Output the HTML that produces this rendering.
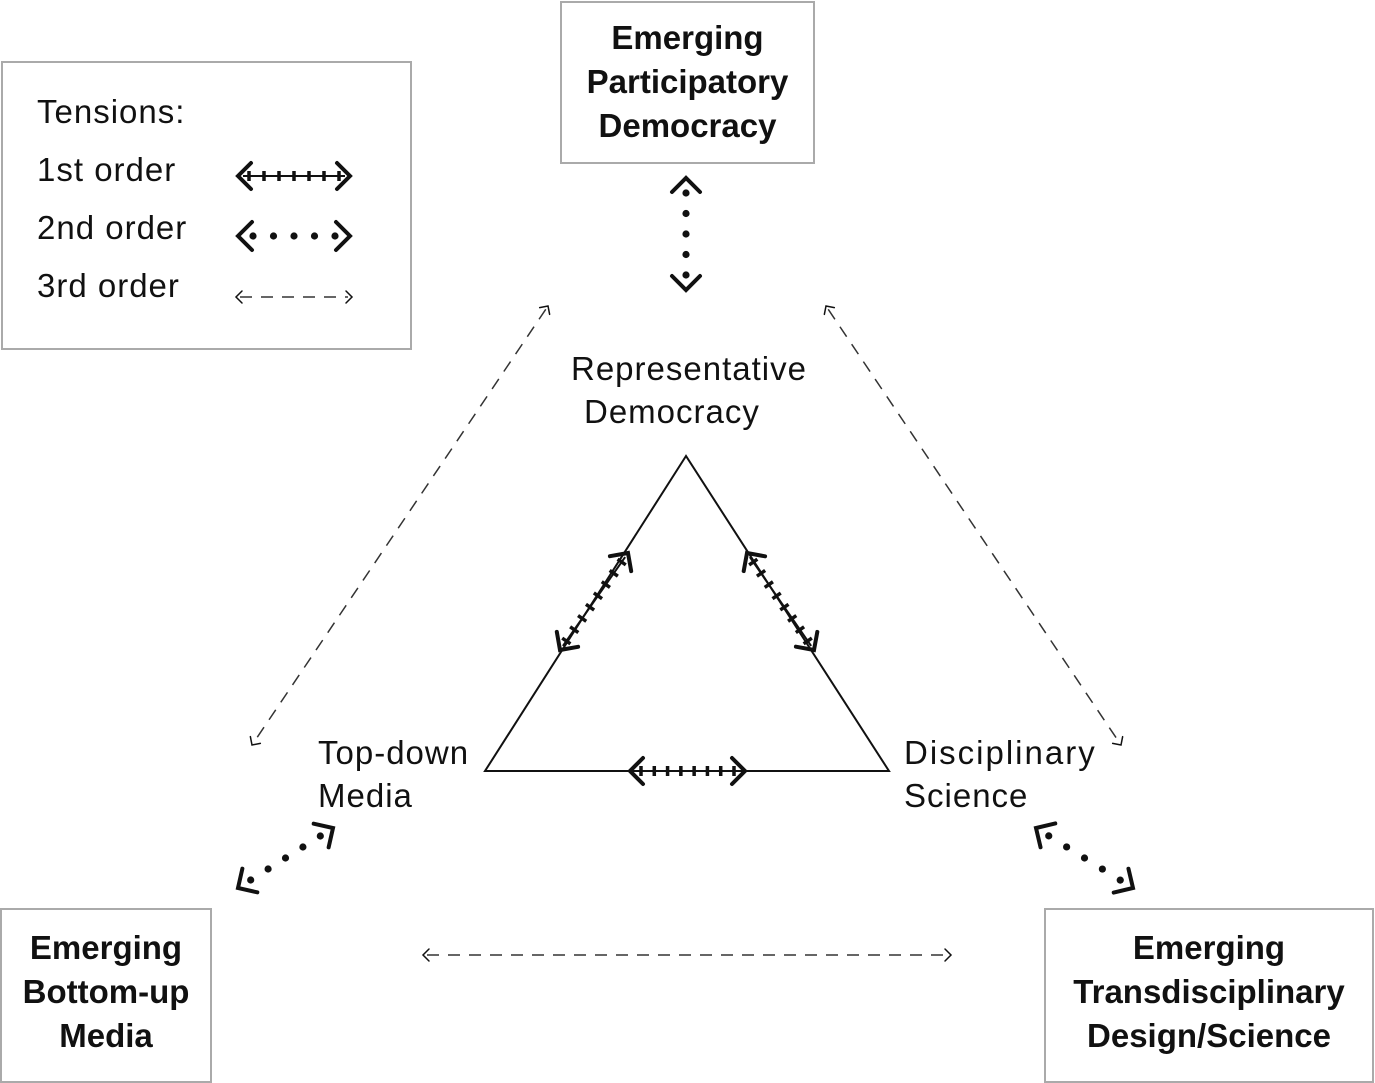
<!DOCTYPE html>
<html><head><meta charset="utf-8"><style>
html,body{margin:0;padding:0;background:#fff}
body{width:1375px;height:1083px;overflow:hidden;position:relative;font-family:"Liberation Sans",sans-serif;color:#111}
.box{position:absolute;border:2px solid #aaa;background:#fff;box-sizing:border-box}
.t{position:absolute;font-size:33px;line-height:43px;white-space:nowrap;letter-spacing:1px}
.b{font-weight:bold;text-align:center;font-size:33px;line-height:44px;position:absolute;width:100%;left:0}
#s{z-index:5}
</style></head><body>
<div class="box" style="left:1px;top:61px;width:411px;height:289px"></div>
<div class="t" style="left:37px;top:90px">Tensions:</div>
<div class="t" style="left:37px;top:148px">1st order</div>
<div class="t" style="left:37px;top:206px">2nd order</div>
<div class="t" style="left:37px;top:264px">3rd order</div>

<div class="box" style="left:560px;top:1px;width:255px;height:163px"><div class="b" style="top:13px">Emerging<br>Participatory<br>Democracy</div></div>
<div class="box" style="left:0px;top:908px;width:212px;height:175px"><div class="b" style="top:16px">Emerging<br>Bottom-up<br>Media</div></div>
<div class="box" style="left:1044px;top:908px;width:330px;height:175px"><div class="b" style="top:16px">Emerging<br>Transdisciplinary<br>Design/Science</div></div>

<div class="t" style="left:571px;top:347px">Representative</div>
<div class="t" style="left:584px;top:390px">Democracy</div>
<div class="t" style="left:318px;top:731px">Top-down</div>
<div class="t" style="left:318px;top:774px">Media</div>
<div class="t" style="left:904px;top:731px;letter-spacing:2px">Disciplinary</div>
<div class="t" style="left:904px;top:774px">Science</div>

<svg id="s" width="1375" height="1083" style="position:absolute;left:0;top:0">
<polygon points="686,456 485,771 889,771" fill="none" stroke="#111" stroke-width="2"/>
</svg>
<script>
var s=document.getElementById('s'),NS='http://www.w3.org/2000/svg';
function el(n,a){var e=document.createElementNS(NS,n);for(var k in a)e.setAttribute(k,a[k]);s.appendChild(e);return e;}
function head(x,y,ux,uy,h){
  var px=-uy,py=ux;
  return (x+ux*h+px*h)+','+(y+uy*h+py*h)+' '+x+','+y+' '+(x+ux*h-px*h)+','+(y+uy*h-py*h);
}
function arrow(x1,y1,x2,y2,type){
  var dx=x2-x1,dy=y2-y1,L=Math.hypot(dx,dy),ux=dx/L,uy=dy/L,px=-uy,py=ux;
  var h,w;
  if(type==3){h=6;w=1.5;
    el('line',{x1:x1+ux*4,y1:y1+uy*4,x2:x2-ux*4,y2:y2-uy*4,stroke:'#333','stroke-width':1.5,'stroke-dasharray':'12 9'});
  }else{h=type==1?13:14;w=4;
    if(type==1){
      el('line',{x1:x1+ux*5,y1:y1+uy*5,x2:x2-ux*5,y2:y2-uy*5,stroke:'#111','stroke-width':2});
      var n=Math.round((L-22)/14);
      for(var i=0;i<=n;i++){var t=11+i*(L-22)/n,cx=x1+ux*t,cy=y1+uy*t;
        el('line',{x1:cx+px*5,y1:cy+py*5,x2:cx-px*5,y2:cy-py*5,stroke:'#111','stroke-width':3.5});}
    }else{
      var n=Math.round((L-30)/21);
      for(var i=0;i<=n;i++){var t=15+i*(L-30)/n;
        el('circle',{cx:x1+ux*t,cy:y1+uy*t,r:3.6,fill:'#111'});}
    }
  }
  el('polyline',{points:head(x1,y1,ux,uy,h),fill:'none',stroke:'#111','stroke-width':w,'stroke-linecap':'round'});
  el('polyline',{points:head(x2,y2,-ux,-uy,h),fill:'none',stroke:'#111','stroke-width':w,'stroke-linecap':'round'});
}
arrow(238,176,350,176,1);
arrow(238,236,350,236,2);
arrow(236,297,352,297,3);
arrow(560,650,628,553,1);
arrow(747,553,814,650,1);
arrow(630,771,745,771,1);
arrow(686,178,686,290,2);
arrow(238,888,333,828,2);
arrow(1036,828,1133,888,2);
arrow(548,306,252,745,3);
arrow(826,306,1121,745,3);
arrow(423,955,951,955,3);
</script>
</body></html>
